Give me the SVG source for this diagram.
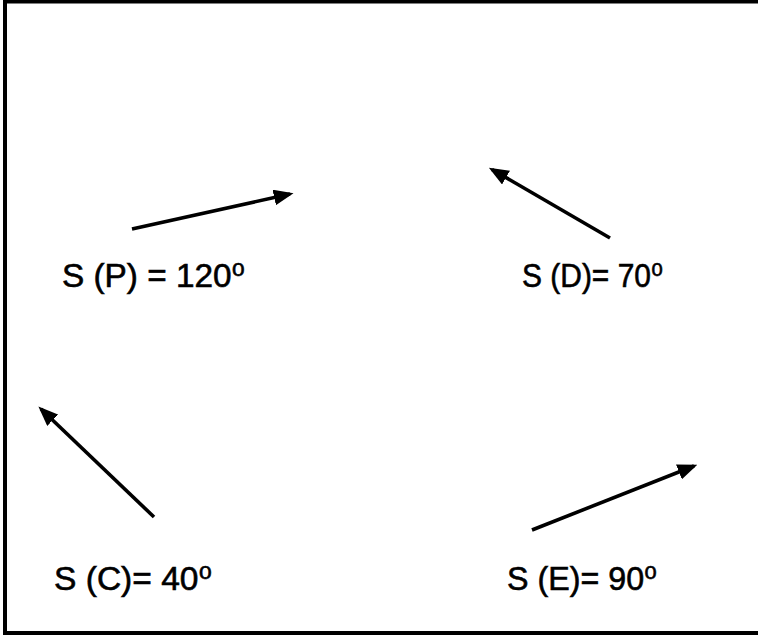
<svg xmlns="http://www.w3.org/2000/svg" width="758" height="637" viewBox="0 0 758 637">
<style>
.lbl{font-family:"Liberation Sans","DejaVu Sans",sans-serif;font-size:33px;fill:#000;stroke:#000;stroke-width:0.6}
.arr{stroke:#000;stroke-width:3.6;fill:none;marker-end:url(#ah)}
</style>
<defs>
<marker id="ah" markerWidth="5.5" markerHeight="4.4" refX="4.5" refY="2.2" orient="auto" markerUnits="strokeWidth">
<path d="M0,0 L5.5,2.2 L0,4.4 Z" fill="#000"/>
</marker>
</defs>
<rect x="5" y="1.5" width="760" height="631.5" fill="#fff" stroke="#000" stroke-width="4"/>
<g id="connectors">
<line class="arr" x1="132" y1="229" x2="290" y2="194"/>
<line class="arr" x1="610" y1="238" x2="492" y2="169.5"/>
<line class="arr" x1="154" y1="517" x2="41" y2="409"/>
<line class="arr" x1="532" y1="530" x2="694" y2="466"/>
</g>
<g id="nodeP"><text class="lbl" x="62" y="287" textLength="183" lengthAdjust="spacingAndGlyphs">S (P) = 120⁰</text></g>
<g id="nodeD"><text class="lbl" x="522" y="287" textLength="141" lengthAdjust="spacingAndGlyphs">S (D)= 70⁰</text></g>
<g id="nodeC"><text class="lbl" x="54" y="590" textLength="158" lengthAdjust="spacingAndGlyphs">S (C)= 40⁰</text></g>
<g id="nodeE"><text class="lbl" x="507" y="590" textLength="150" lengthAdjust="spacingAndGlyphs">S (E)= 90⁰</text></g>
</svg>
